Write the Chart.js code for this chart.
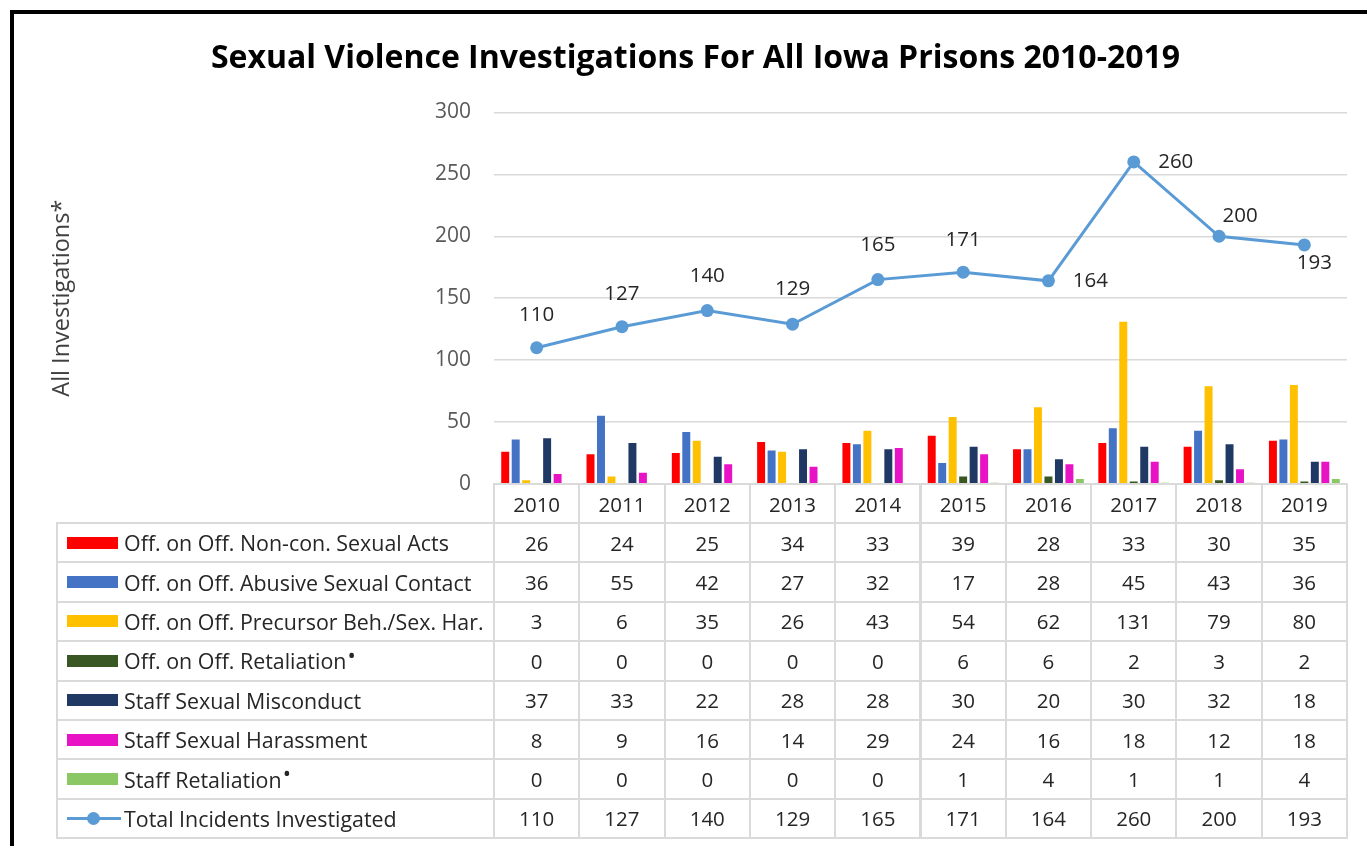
<!DOCTYPE html>
<html>
<head>
<meta charset="utf-8">
<script src="https://cdn.jsdelivr.net/npm/chart.js@4.4.1/dist/chart.umd.min.js"></script>
<style>
  html, body { margin: 0; padding: 0; background: #fff; width: 1367px; height: 846px; overflow: hidden; }
  body { font-family: "Open Sans", Lato, sans-serif; position: relative; }
  #frame { position: absolute; left: 10px; top: 10px; width: 1400px; height: 900px;
           border-left: 4px solid #000; border-top: 4px solid #000; }
  #chart { position: absolute; left: 0; top: 0; }
  #table { position: absolute; left: 0; top: 0; }
  .cell { position: absolute; box-sizing: border-box; border: 2px solid #dadada; display: flex;
          align-items: center; justify-content: center; font-size: 20.5px; color: #262626; white-space: nowrap; }
  .cell.name { justify-content: flex-start; padding-left: 9px; font-size: 21.4px; }
  .key { display: inline-block; width: 51px; height: 12px; margin-right: 6px; position: relative; }
  .key.line .bar { position: absolute; left: 0; top: 5px; width: 54px; height: 3px; }
  .key.line .dot { position: absolute; left: 20px; top: 0; width: 13px; height: 13px; border-radius: 50%; }
  .mark { font-size: 22px; line-height: 1; position: relative; top: -7px; margin-left: 1px; }
</style>
</head>
<body>
<div id="frame"></div>
<canvas id="chart" width="1367" height="846"></canvas>
<div id="table"></div>
<script>
  const years = ['2010', '2011', '2012', '2013', '2014', '2015', '2016', '2017', '2018', '2019'];

  const nonConsensualActs = [26, 24, 25, 34, 33, 39, 28, 33, 30, 35];
  const abusiveContact = [36, 55, 42, 27, 32, 17, 28, 45, 43, 36];
  const precursorHarassment = [3, 6, 35, 26, 43, 54, 62, 131, 79, 80];
  const offenderRetaliation = [0, 0, 0, 0, 0, 6, 6, 2, 3, 2];
  const staffMisconduct = [37, 33, 22, 28, 28, 30, 20, 30, 32, 18];
  const staffHarassment = [8, 9, 16, 14, 29, 24, 16, 18, 12, 18];
  const staffRetaliation = [0, 0, 0, 0, 0, 1, 4, 1, 1, 4];
  const totalIncidents = [110, 127, 140, 129, 165, 171, 164, 260, 200, 193];

  const barNames = [
    'Off. on Off. Non-con. Sexual Acts',
    'Off. on Off. Abusive Sexual Contact',
    'Off. on Off. Precursor Beh./Sex. Har.',
    'Off. on Off. Retaliation\u2022',
    'Staff Sexual Misconduct',
    'Staff Sexual Harassment',
    'Staff Retaliation\u2022'
  ];
  const lineName = 'Total Incidents Investigated';
  const barSeries = [nonConsensualActs, abusiveContact, precursorHarassment, offenderRetaliation,
    staffMisconduct, staffHarassment, staffRetaliation];
  const barColors = ['#ff0000', '#4472c4', '#ffc000', '#385723', '#1f3864', '#e913c6', '#8cc766'];
  const lineColor = '#5b9bd5';

  // where each total label sits relative to its point (dx, dy)
  const labelShift = [[0, -33], [0, -33], [0, -34], [0, -35], [0, -34], [0, -32], [42, 0], [42, 0], [21, -20], [10, 18]];

  const FONT = '"Open Sans", Lato, sans-serif';
  const PAD_LEFT = 44;
  const PLOT_LEFT = 494;

  const totalLabels = {
    id: 'totalLabels',
    afterDatasetsDraw(chart) {
      const meta = chart.getDatasetMeta(barSeries.length);
      const ctx = chart.ctx;
      ctx.save();
      ctx.font = '20.5px ' + FONT;
      ctx.fillStyle = '#262626';
      ctx.textAlign = 'center';
      ctx.textBaseline = 'middle';
      meta.data.forEach((pt, i) => {
        ctx.fillText(String(totalIncidents[i]), pt.x + labelShift[i][0], pt.y + labelShift[i][1]);
      });
      ctx.restore();
    }
  };

  const datasets = barSeries.map((values, i) => ({
    type: 'bar',
    label: barNames[i],
    data: values,
    backgroundColor: barColors[i],
    categoryPercentage: 0.86,
    barPercentage: 0.76,
    order: 2
  }));
  datasets.push({
    type: 'line',
    label: lineName,
    data: totalIncidents,
    borderColor: lineColor,
    backgroundColor: lineColor,
    borderWidth: 3,
    pointRadius: 6.5,
    pointBackgroundColor: lineColor,
    pointBorderWidth: 0,
    tension: 0,
    order: 1
  });

  const chart = new Chart(document.getElementById('chart'), {
    type: 'bar',
    data: { labels: years, datasets },
    plugins: [totalLabels],
    options: {
      responsive: false,
      animation: false,
      layout: { padding: { left: PAD_LEFT, right: 20, top: 0, bottom: 362 } },
      plugins: {
        legend: { display: false },
        tooltip: { enabled: false },
        title: {
          display: true,
          text: 'Sexual Violence Investigations For All Iowa Prisons 2010-2019',
          color: '#000',
          font: { family: FONT, size: 32, weight: 'bold' },
          padding: { top: 40, bottom: 34 }
        }
      },
      scales: {
        x: { display: false },
        y: {
          min: 0,
          max: 300,
          ticks: { stepSize: 50, color: '#595959', font: { family: FONT, size: 21 }, padding: 23 },
          grid: { color: '#d9d9d9', lineWidth: 1.5, drawTicks: false },
          border: { display: false },
          title: { display: true, text: 'All Investigations*', color: '#404040', font: { family: FONT, size: 23.5 } },
          afterFit(scale) { scale.width = PLOT_LEFT - PAD_LEFT; }
        }
      }
    }
  });

  function cell(x, y, w, h, cls) {
    const el = document.createElement('div');
    el.className = 'cell' + (cls ? ' ' + cls : '');
    el.style.left = (x - 1) + 'px';
    el.style.top = (y - 1) + 'px';
    el.style.width = (w + 2) + 'px';
    el.style.height = (h + 2) + 'px';
    document.getElementById('table').appendChild(el);
    return el;
  }

  function buildTable() {
    const area = chart.chartArea;
    const colW = (area.right - area.left) / years.length;
    const headH = 39;
    const rowH = 39.4;
    const tableLeft = 57;

    years.forEach((yr, i) => {
      cell(area.left + i * colW, area.bottom, colW, headH).textContent = yr;
    });

    const rows = barSeries.map((values, i) => ({ name: barNames[i], values, color: barColors[i], line: false }));
    rows.push({ name: lineName, values: totalIncidents, color: lineColor, line: true });

    rows.forEach((row, r) => {
      const y = area.bottom + headH + r * rowH;
      const name = cell(tableLeft, y, area.left - tableLeft, rowH, 'name');
      const key = document.createElement('span');
      if (row.line) {
        key.className = 'key line';
        key.innerHTML = '<span class="bar"></span><span class="dot"></span>';
        key.children[0].style.background = row.color;
        key.children[1].style.background = row.color;
      } else {
        key.className = 'key';
        key.style.background = row.color;
      }
      name.appendChild(key);
      // the footnote bullet is drawn small and raised, as in the original
      const text = row.name.replace('\u2022', '');
      name.appendChild(document.createTextNode(text));
      if (text !== row.name) {
        const mark = document.createElement('span');
        mark.className = 'mark';
        mark.textContent = '\u2022';
        name.appendChild(mark);
      }
      row.values.forEach((v, i) => {
        cell(area.left + i * colW, y, colW, rowH).textContent = v;
      });
    });
  }

  buildTable();
</script>
</body>
</html>
